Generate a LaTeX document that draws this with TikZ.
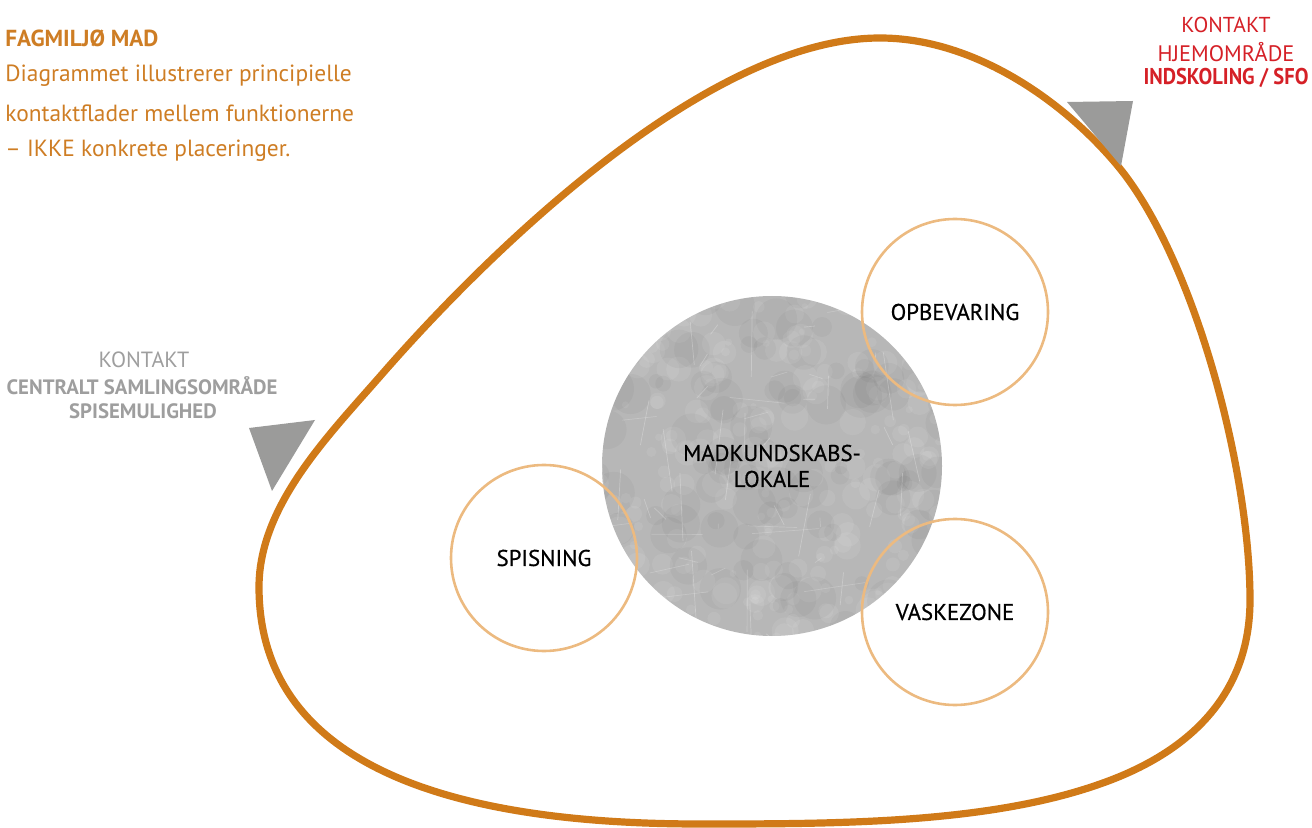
\documentclass[tikz,border=0pt]{standalone}
\usepackage{fontspec}
\setmainfont{PT Sans}
\newfontfamily\lblfont[FakeBold=0.6]{PT Sans}
\usepackage{graphicx}
\definecolor{mainor}{RGB}{208,122,24}
\definecolor{txtor}{RGB}{206,125,36}
\definecolor{lightor}{RGB}{236,186,128}
\definecolor{redtxt}{RGB}{213,32,39}
\definecolor{graytxt}{RGB}{158,158,158}
\definecolor{tri}{RGB}{155,155,154}
\definecolor{concrete}{RGB}{183,183,183}
\tikzset{
  zone/.style={circle, draw=lightor, line width=1.3pt, inner sep=0pt, minimum size=93pt, font=\lblfont\fontsize{11.4}{12}\selectfont, text=black},
  core/.style={circle, fill=concrete, inner sep=0pt, minimum size=170pt},
  corelabel/.style={font=\lblfont\fontsize{11.4}{13}\selectfont, align=center, text=black},
  blob/.style={draw=mainor, line width=3.6pt},
  marker/.style={fill=tri, draw=none},
  headline/.style={anchor=west, text=txtor, inner sep=0pt},
}
\begin{document}
\begin{tikzpicture}[x=0.5pt,y=-0.5pt]
\useasboundingbox (0,0) rectangle (1312,828);
% outer rounded triangle
\coordinate (p0) at (880,38);
\coordinate (p1) at (1117,165);
\coordinate (p2) at (1250,600);
\coordinate (p3) at (1100,784);
\coordinate (p4) at (700,824);
\coordinate (p5) at (259,587);
\coordinate (p6) at (383,373);
\draw[blob] (p0) .. controls (970,38) and (1059,96) .. (p1)
  .. controls (1194,257) and (1250,470) .. (p2)
  .. controls (1250,695) and (1189,753) .. (p3)
  .. controls (987,824) and (834,824) .. (p4)
  .. controls (500,824) and (259,787) .. (p5)
  .. controls (259,505) and (329,435) .. (p6)
  .. controls (495,245) and (710,38) .. (p0) -- cycle;
% central textured circle
\node[core] (core) at (772,466) {};
\begin{scope}
\clip (core.center) circle[radius=85pt];
\pgfmathsetseed{17}
\foreach \i in {1,...,260} {
  \pgfmathsetmacro\xx{772+175*rand}
  \pgfmathsetmacro\yy{466+175*rand}
  \pgfmathsetmacro\rr{3+11*rnd}
  \fill[white, opacity=0.08] (\xx,\yy) circle[radius=\rr*0.5pt];
}
\foreach \i in {1,...,110} {
  \pgfmathsetmacro\xx{772+175*rand}
  \pgfmathsetmacro\yy{466+175*rand}
  \pgfmathsetmacro\rr{6+16*rnd}
  \fill[black, opacity=0.03] (\xx,\yy) circle[radius=\rr*0.5pt];
}
\foreach \i in {1,...,40} {
  \pgfmathsetmacro\xx{772+175*rand}
  \pgfmathsetmacro\yy{466+175*rand}
  \pgfmathsetmacro\dx{12*rand}
  \pgfmathsetmacro\dy{70*rand}
  \draw[white, opacity=0.25, line width=0.35pt] (\xx,\yy) -- ++(\dx,\dy);
}
\foreach \i in {1,...,20} {
  \pgfmathsetmacro\xx{772+175*rand}
  \pgfmathsetmacro\yy{466+175*rand}
  \pgfmathsetmacro\dx{70*rand}
  \pgfmathsetmacro\dy{10*rand}
  \draw[white, opacity=0.2, line width=0.35pt] (\xx,\yy) -- ++(\dx,\dy);
}
\end{scope}
\node[corelabel] (corelbl) at (core.center) {MADKUNDSKABS-\\LOKALE};
% zone circles
\node[zone] (opb) at (955,312) {OPBEVARING};
\node[zone] (spis) at (544,558) {SPISNING};
\node[zone] (vask) at (955,612) {VASKEZONE};
% markers
\coordinate (t1a) at (1067,102);
\coordinate (t1b) at (1133,101);
\coordinate (t1c) at (1121,166);
\fill[marker] (t1a) -- (t1b) -- (t1c) -- cycle;
\coordinate (t2a) at (249,428);
\coordinate (t2b) at (315,420);
\coordinate (t2c) at (272,491);
\fill[marker] (t2a) -- (t2b) -- (t2c) -- cycle;
% header text
\node[headline, font=\fontsize{11.6}{12}\selectfont\bfseries] (head) at (5,38) {FAGMILJØ MAD};
\node[headline, font=\fontsize{11.7}{12}\selectfont] (l1) at (5,76) {Diagrammet illustrerer principielle};
\node[headline, font=\fontsize{11.7}{12}\selectfont] (l2) at (5,113) {kontaktflader mellem funktionerne};
\node[headline, font=\fontsize{11.7}{12}\selectfont] (l3) at (5,151) {– IKKE konkrete placeringer.};
% top-right contact
\node[text=redtxt, font=\fontsize{10.8}{12}\selectfont, inner sep=0pt] (k1) at (1226,25) {KONTAKT};
\node[text=redtxt, font=\fontsize{11.2}{12}\selectfont, inner sep=0pt] (k2) at (1226,52) {HJEMOMRÅDE};
\node[text=redtxt, font=\fontsize{11.4}{12}\selectfont\bfseries, inner sep=0pt] (k3) at (1226,78) {\scalebox{0.9}[1]{INDSKOLING / SFO}};
% left contact
\node[text=graytxt, font=\fontsize{11}{12}\selectfont, inner sep=0pt] (g1) at (144,360) {KONTAKT};
\node[text=graytxt, font=\fontsize{10.4}{12}\selectfont\bfseries, inner sep=0pt] (g2) at (142,386) {CENTRALT SAMLINGSOMRÅDE};
\node[text=graytxt, font=\fontsize{10.4}{12}\selectfont\bfseries, inner sep=0pt] (g3) at (143,411) {SPISEMULIGHED};
\end{tikzpicture}
\end{document}
